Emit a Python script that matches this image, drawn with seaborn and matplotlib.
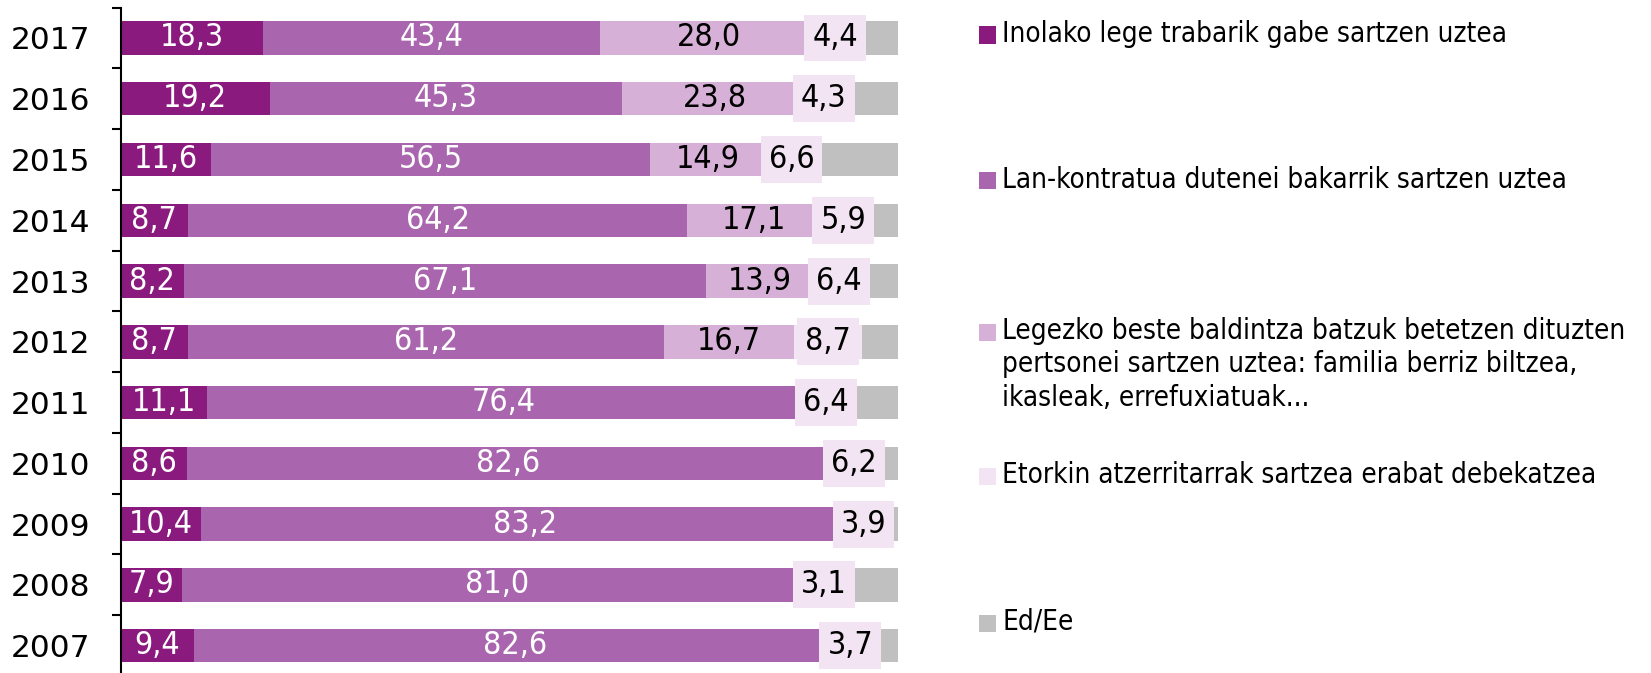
import numpy as np
import pandas as pd
import matplotlib.pyplot as plt
import seaborn as sns
from matplotlib.patches import Rectangle

# Datuak
urteak = ["2017", "2016", "2015", "2014", "2013", "2012", "2011", "2010", "2009", "2008", "2007"]
inolako = [18.3, 19.2, 11.6, 8.7, 8.2, 8.7, 11.1, 8.6, 10.4, 7.9, 9.4]
lan_kontratua = [43.4, 45.3, 56.5, 64.2, 67.1, 61.2, 76.4, 82.6, 83.2, 81.0, 82.6]
legezko_beste = [28.0, 23.8, 14.9, 17.1, 13.9, 16.7, 0, 0, 0, 0, 0]
debekatzea = [4.4, 4.3, 6.6, 5.9, 6.4, 8.7, 6.4, 6.2, 3.9, 3.1, 3.7]

legenda = [
    "Inolako lege trabarik gabe sartzen uztea",
    "Lan-kontratua dutenei bakarrik sartzen uztea",
    "Legezko beste baldintza batzuk betetzen dituzten\npertsonei sartzen uztea: familia berriz biltzea,\nikasleak, errefuxiatuak...",
    "Etorkin atzerritarrak sartzea erabat debekatzea",
    "Ed/Ee",
]
koloreak = ["#8b1a7e", "#a966af", "#d6b0d6", "#f2e4f2", "#c0c0c0"]

# Letra-tipo estua
estua = dict(family="DejaVu Sans", stretch="condensed")

df = pd.DataFrame({"urtea": urteak, "s1": inolako, "s2": lan_kontratua,
                   "s3": legezko_beste, "s4": debekatzea})
df["s5"] = 100 - df[["s1", "s2", "s3", "s4"]].sum(axis=1)
serieak = ["s1", "s2", "s3", "s4", "s5"]
metatua = df[serieak].cumsum(axis=1)

fig = plt.figure(figsize=(16.51, 6.73), dpi=100)
ax = fig.add_axes([0.073, -0.0045, 0.471, 0.9932])

# Barra metatuak: handienetik txikienera marraztu
for i in range(len(serieak) - 1, -1, -1):
    sns.barplot(x=metatua[serieak[i]], y=df["urtea"], order=urteak, orient="h",
                color=koloreak[i], width=0.55, saturation=1, ax=ax)

# Etiketak
for j, urtea in enumerate(urteak):
    for i, s in enumerate(serieak[:4]):
        v = df[s].iloc[j]
        if v <= 0:
            continue
        xc = metatua[s].iloc[j] - v / 2
        testua = f"{v:.1f}".replace(".", ",")
        kolorea = "white" if i < 2 else "black"
        if i < 3:
            ax.text(xc, j, testua, ha="center", va="center", color=kolorea,
                    fontsize=23, **estua)
        else:
            ax.text(xc, j, testua, ha="center", va="center", color=kolorea,
                    fontsize=23, **estua,
                    bbox=dict(boxstyle="square,pad=0.25", fc=koloreak[3], ec="none"))

ax.set_xlim(0, 100)
ax.set_ylim(len(urteak) - 0.5, -0.5)
ax.set_xlabel("")
ax.set_ylabel("")
ax.set_xticks([])
for sp in ["top", "right", "bottom"]:
    ax.spines[sp].set_visible(False)
ax.spines["left"].set_linewidth(1.5)
ax.set_yticks(range(len(urteak)))
ax.set_yticklabels(urteak, family="DejaVu Sans", fontsize=22.5)
ax.tick_params(axis="y", which="major", length=0, pad=22)
ax.set_yticks(np.arange(-0.5, len(urteak), 1), minor=True)
ax.tick_params(axis="y", which="minor", length=6.5, width=1.5)

# Legenda
legenda_y = [35, 181, 332, 476, 623]
for i, (t, yy) in enumerate(zip(legenda, legenda_y)):
    yf = 1 - yy / 673
    fig.patches.append(Rectangle((979 / 1651, yf - 8.5 / 673), 17 / 1651, 17 / 673,
                                 transform=fig.transFigure, fc=koloreak[i], ec="none"))
    fig.text(1002 / 1651, yf + 15 / 673, t, ha="left", va="top", fontsize=20,
             linespacing=1.25, **estua)

fig.savefig("out.png", dpi=100)
